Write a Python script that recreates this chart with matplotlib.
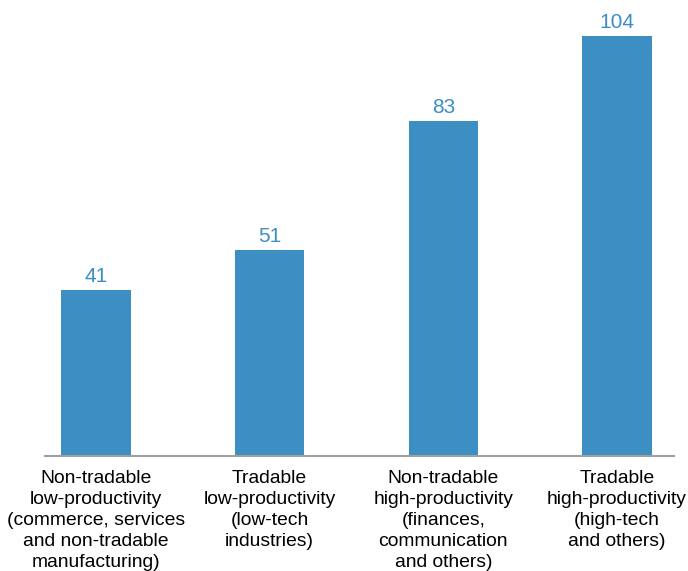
import matplotlib.pyplot as plt

plt.rcParams['font.family'] = ['Liberation Sans', 'DejaVu Sans']

categories = [
    "Non-tradable\nlow-productivity\n(commerce, services\nand non-tradable\nmanufacturing)",
    "Tradable\nlow-productivity\n(low-tech\nindustries)",
    "Non-tradable\nhigh-productivity\n(finances,\ncommunication\nand others)",
    "Tradable\nhigh-productivity\n(high-tech\nand others)",
]
values = [41, 51, 83, 104]

bar_color = "#3d8fc3"

fig = plt.figure(figsize=(6.88, 5.71), dpi=100)
ax = fig.add_axes([45 / 688, 115 / 571, 629 / 688, 444.4 / 571])

x = range(len(values))
bars = ax.bar(x, values, width=0.40, color=bar_color)
for xi, v in zip(x, values):
    ax.text(xi, v + 1.0, str(v), ha="center", va="bottom",
            fontsize=15, color=bar_color)

ax.set_xlim(-0.293, 3.328)
ax.set_ylim(0, 110)
ax.set_xticks(list(x))
ax.set_xticklabels(categories, fontsize=13.9, linespacing=1.31)
ax.tick_params(axis="x", length=0, pad=10)
ax.set_yticks([])
for s in ["top", "right", "left"]:
    ax.spines[s].set_visible(False)
ax.spines["bottom"].set_color("#a0a0a0")
ax.spines["bottom"].set_linewidth(1.5)

fig.savefig("out.png", dpi=100)
